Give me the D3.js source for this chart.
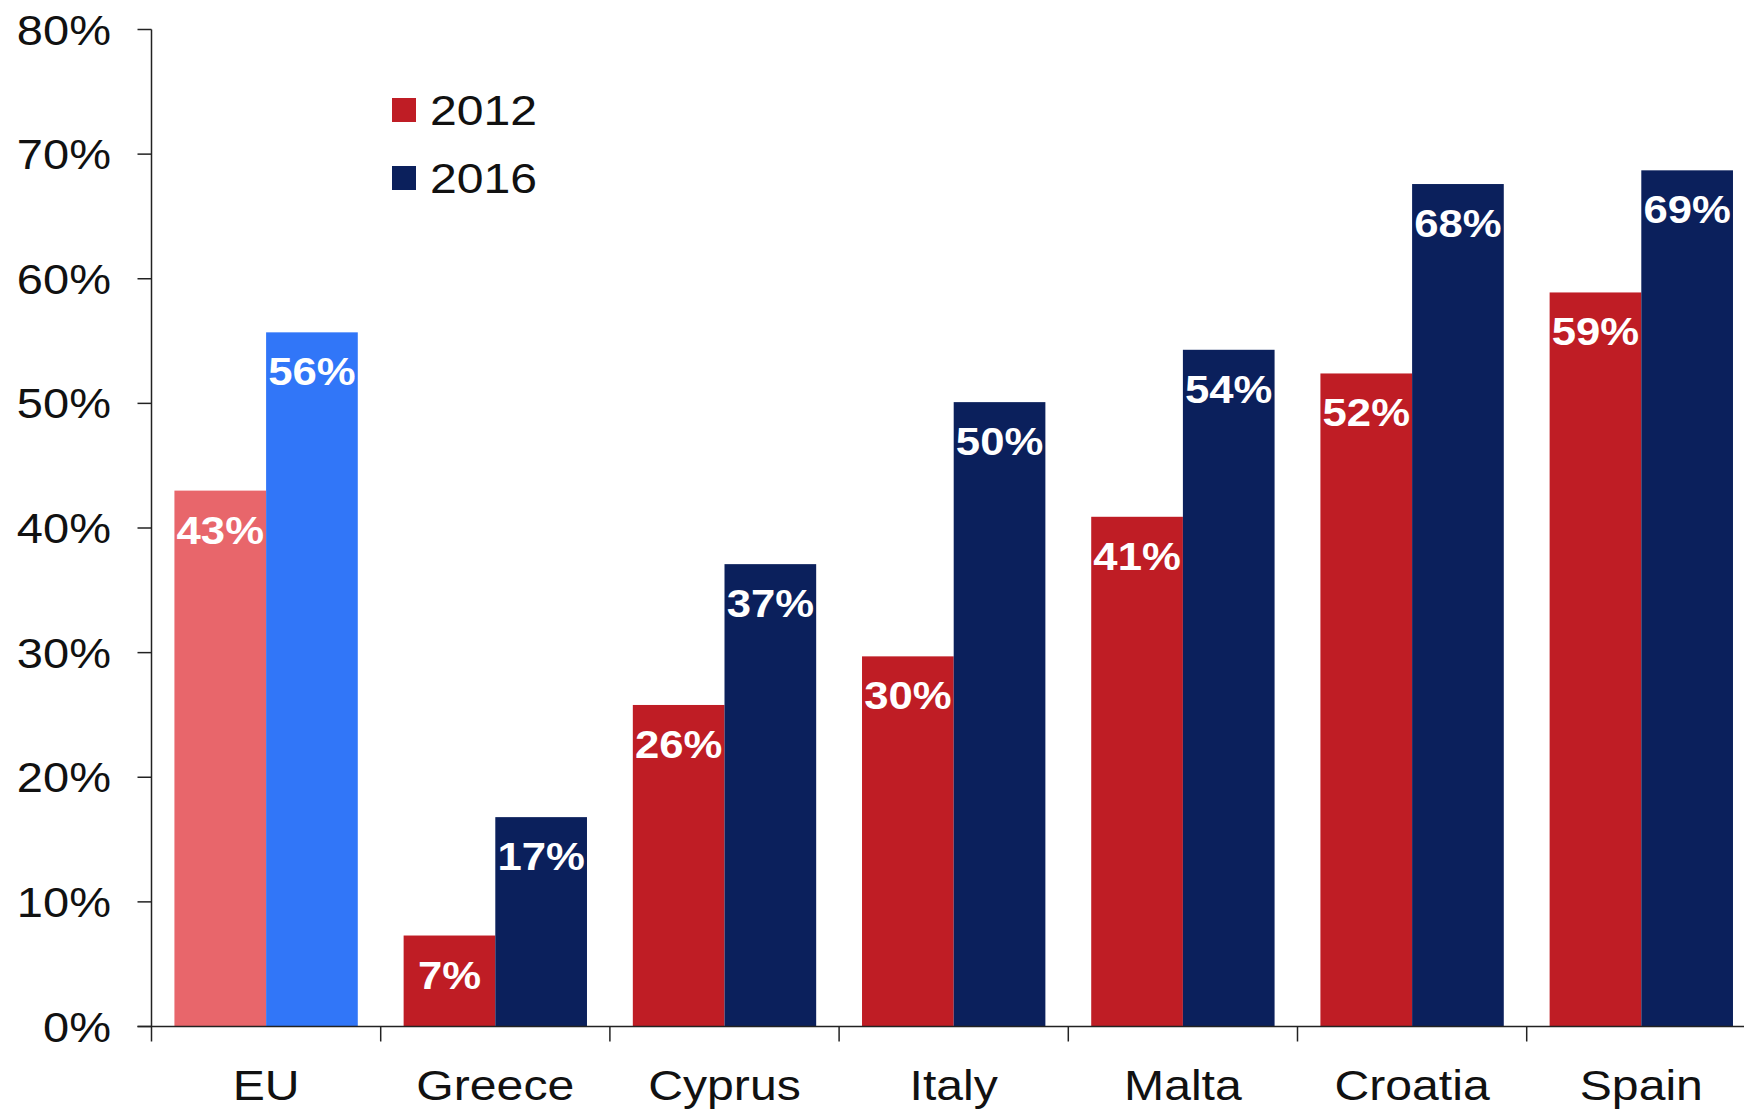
<!DOCTYPE html>
<html>
<head>
<meta charset="utf-8">
<script src="https://cdn.jsdelivr.net/npm/d3@7"></script>
<style>
  html, body { margin: 0; padding: 0; background: #fff; }
  svg { display: block; }
  text { font-family: "Liberation Sans", Arial, Helvetica, sans-serif; }
</style>
</head>
<body>
<svg id="chart" width="1744" height="1115"></svg>
<script>
// ---- data ----
const categories = ["EU", "Greece", "Cyprus", "Italy", "Malta", "Croatia", "Spain"];
const seriesNames = ["2012", "2016"];
const values2012 = [43.0, 7.3, 25.8, 29.7, 40.9, 52.4, 58.9];
const values2016 = [55.7, 16.8, 37.1, 50.1, 54.3, 67.6, 68.7];
const labels2012 = ["43%", "7%", "26%", "30%", "41%", "52%", "59%"];
const labels2016 = ["56%", "17%", "37%", "50%", "54%", "68%", "69%"];
const yTicks = [0, 10, 20, 30, 40, 50, 60, 70, 80];
const yTickLabels = ["0%", "10%", "20%", "30%", "40%", "50%", "60%", "70%", "80%"];

// ---- styles ----
const colors = { "2012": "#BF1D25", "2016": "#0B205C" };
const euColors = { "2012": "#E8666B", "2016": "#3176F8" };
const SX = 1.12; // horizontal text stretch seen in reference

const svg = d3.select("#chart");
const axisX = 151.5;
const step = 229.2;
const x0 = d3.scaleBand()
  .domain(categories)
  .range([axisX, axisX + step * categories.length])
  .paddingInner(0.2)
  .paddingOuter(0.1);
const x1 = d3.scaleBand().domain(seriesNames).range([0, x0.bandwidth()]).padding(0);
const y = d3.scaleLinear().domain([0, 80]).range([1026.5, 29.5]);

const rows = categories.map((c, i) => ({
  cat: c,
  bars: [
    { s: "2012", v: values2012[i], label: labels2012[i] },
    { s: "2016", v: values2016[i], label: labels2016[i] }
  ]
}));

// bars
const g = svg.append("g");
const groups = g.selectAll("g.grp").data(rows).join("g")
  .attr("class", "grp")
  .attr("transform", d => `translate(${x0(d.cat)},0)`);

groups.selectAll("rect").data(d => d.bars.map(b => ({ ...b, cat: d.cat }))).join("rect")
  .attr("x", d => x1(d.s))
  .attr("y", d => y(d.v))
  .attr("width", x1.bandwidth())
  .attr("height", d => y(0) - y(d.v))
  .attr("fill", d => d.cat === "EU" ? euColors[d.s] : colors[d.s]);

groups.selectAll("text.val").data(d => d.bars).join("text")
  .attr("class", "val")
  .attr("transform", d => `translate(${x1(d.s) + x1.bandwidth() / 2},${y(d.v) + 53}) scale(${SX},1)`)
  .attr("text-anchor", "middle")
  .attr("font-size", 39)
  .attr("font-weight", "bold")
  .attr("fill", "#fff")
  .text(d => d.label);

// y axis
const yAxis = svg.append("g");
yAxis.append("line")
  .attr("x1", axisX).attr("x2", axisX)
  .attr("y1", y(80)).attr("y2", y(0))
  .attr("stroke", "#222").attr("stroke-width", 1.5);
yAxis.selectAll("line.tick").data(yTicks).join("line")
  .attr("class", "tick")
  .attr("x1", axisX - 14).attr("x2", axisX)
  .attr("y1", d => y(d)).attr("y2", d => y(d))
  .attr("stroke", "#222").attr("stroke-width", 1.5);
yAxis.selectAll("text").data(yTicks).join("text")
  .attr("transform", d => `translate(111,${y(d) + 15}) scale(${SX},1)`)
  .attr("text-anchor", "end")
  .attr("font-size", 42)
  .attr("fill", "#111")
  .text((d, i) => yTickLabels[i]);

// x axis
const xAxis = svg.append("g");
xAxis.append("line")
  .attr("x1", axisX - 14).attr("x2", 1744)
  .attr("y1", y(0)).attr("y2", y(0))
  .attr("stroke", "#222").attr("stroke-width", 1.5);
const boundaries = d3.range(categories.length + 1).map(i => axisX + i * x0.step());
xAxis.selectAll("line.tick").data(boundaries).join("line")
  .attr("class", "tick")
  .attr("x1", d => d).attr("x2", d => d)
  .attr("y1", y(0)).attr("y2", y(0) + 15)
  .attr("stroke", "#222").attr("stroke-width", 1.5);
xAxis.selectAll("text").data(categories).join("text")
  .attr("transform", d => `translate(${x0(d) + x0.bandwidth() / 2},1100) scale(${SX},1)`)
  .attr("text-anchor", "middle")
  .attr("font-size", 43)
  .attr("fill", "#111")
  .text(d => d);

// legend
const legend = svg.append("g");
const legendY = [98, 166];
seriesNames.forEach((s, i) => {
  legend.append("rect")
    .attr("x", 392).attr("y", legendY[i])
    .attr("width", 24).attr("height", 24)
    .attr("fill", colors[s]);
  legend.append("text")
    .attr("transform", `translate(430,${legendY[i] + 27}) scale(${SX},1)`)
    .attr("font-size", 43)
    .attr("fill", "#111")
    .text(s);
});
</script>
</body>
</html>
